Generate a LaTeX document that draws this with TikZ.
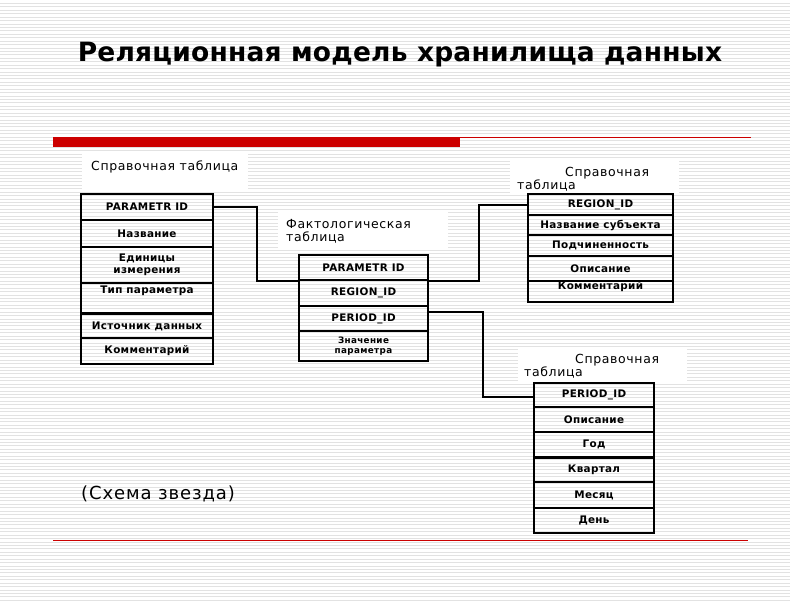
\documentclass[tikz,border=0pt]{standalone}
\usepackage{fontspec}
\setmainfont{DejaVu Sans}
\definecolor{stripe}{RGB}{226,226,226}
\definecolor{barred}{RGB}{204,0,0}
\begin{document}
\begin{tikzpicture}[x=1pt,y=-1pt,
  cell/.style={draw=black,line width=2pt,anchor=north west,inner sep=0pt,
    align=center,font=\fontsize{10.4}{11.5}\selectfont\bfseries\addfontfeature{LetterSpace=3}},
  lab/.style={anchor=west,inner sep=0pt,align=left,
    font=\fontsize{12.5}{13}\selectfont\addfontfeature{LetterSpace=5}},
  conn/.style={line width=2pt},
  labbox/.style={fill=white}]
\useasboundingbox (0,0) rectangle (800,600);
\fill[white] (0,0) rectangle (800,600);
\foreach \i in {0,...,175} {
  \draw[stripe,line width=0.8pt] (0,3.4+3.43*\i) -- (790,3.4+3.43*\i);
}
% title
\node[font=\fontsize{26.5}{30}\selectfont\bfseries\addfontfeature{LetterSpace=0.8},anchor=base] (title) at (400,61)
  {Реляционная модель хранилища данных};
% red bars
\fill[barred] (53,137) rectangle (460,147);
\draw[barred,line width=1pt] (460,137.5) -- (751,137.5);
\draw[barred,line width=1pt] (53,540) -- (748,540);
% label boxes
\fill[labbox] (82,153) rectangle (248,190);
\fill[labbox] (278,212) rectangle (448,250);
\fill[labbox] (510,160) rectangle (679,193);
\fill[labbox] (518,348) rectangle (687,382);
\node[lab] (lab1) at (91,167) {Справочная таблица};
\node[lab] (lab2) at (286,231.5) {Фактологическая\\таблица};
\node[lab] (lab3) at (517,179) {\hspace{48pt}Справочная\\таблица};
\node[lab] (lab4) at (524,366) {\hspace{51pt}Справочная\\таблица};
% left table
\node[cell,minimum width=132,minimum height=26] (p1) at (80,193) {PARAMETR ID};
\node[cell,minimum width=132,minimum height=27] (p2) at (80,219) {Название};
\node[cell,minimum width=132,minimum height=36] (p3) at (80,246) {Единицы\\измерения};
\node[cell,minimum width=132,minimum height=30] (p4) at (80,282) {Тип параметра\\[2pt]\strut};
\node[cell,minimum width=132,minimum height=24] (p5) at (80,313) {Источник данных};
\node[cell,minimum width=132,minimum height=26] (p6) at (80,337) {Комментарий};
% fact table
\node[cell,minimum width=129,minimum height=25] (f1) at (298,254) {PARAMETR ID};
\node[cell,minimum width=129,minimum height=26] (f2) at (298,279) {REGION\_ID};
\node[cell,minimum width=129,minimum height=25] (f3) at (298,305) {PERIOD\_ID};
\node[cell,minimum width=129,minimum height=30,font=\fontsize{8.8}{10.5}\selectfont\bfseries\addfontfeature{LetterSpace=4}] (f4) at (298,330) {Значение\\параметра};
% region table
\node[cell,minimum width=145,minimum height=21] (r1) at (527,193) {REGION\_ID};
\node[cell,minimum width=145,minimum height=20] (r2) at (527,214) {Название субъекта};
\node[cell,minimum width=145,minimum height=21] (r3) at (527,234) {Подчиненность};
\node[cell,minimum width=145,minimum height=25] (r4) at (527,255) {Описание};
\node[cell,minimum width=145,minimum height=21] (r5) at (527,280) {Комментарий\\[-2pt]\strut};
% period table
\node[cell,minimum width=120,minimum height=24] (t1) at (533,382) {PERIOD\_ID};
\node[cell,minimum width=120,minimum height=25] (t2) at (533,406) {Описание};
\node[cell,minimum width=120,minimum height=25] (t3) at (533,431) {Год};
\node[cell,minimum width=120,minimum height=24] (t4) at (533,457) {Квартал};
\node[cell,minimum width=120,minimum height=26] (t5) at (533,481) {Месяц};
\node[cell,minimum width=120,minimum height=25] (t6) at (533,507) {День};
% connectors
\draw[conn] (p1.east) -- ++(43,0) |- (f1.south west);
\draw[conn] (f1.south east) -- ++(50,0) |- (r1.west);
\draw[conn] ([yshift=7pt]f3.east) -- ++(54,0) |- ([yshift=-2pt]t1.west);
% caption
\node[anchor=west,inner sep=0pt,font=\fontsize{18}{20}\selectfont\addfontfeature{LetterSpace=5}] (cap) at (81,494) {(Схема звезда)};
\end{tikzpicture}
\end{document}
